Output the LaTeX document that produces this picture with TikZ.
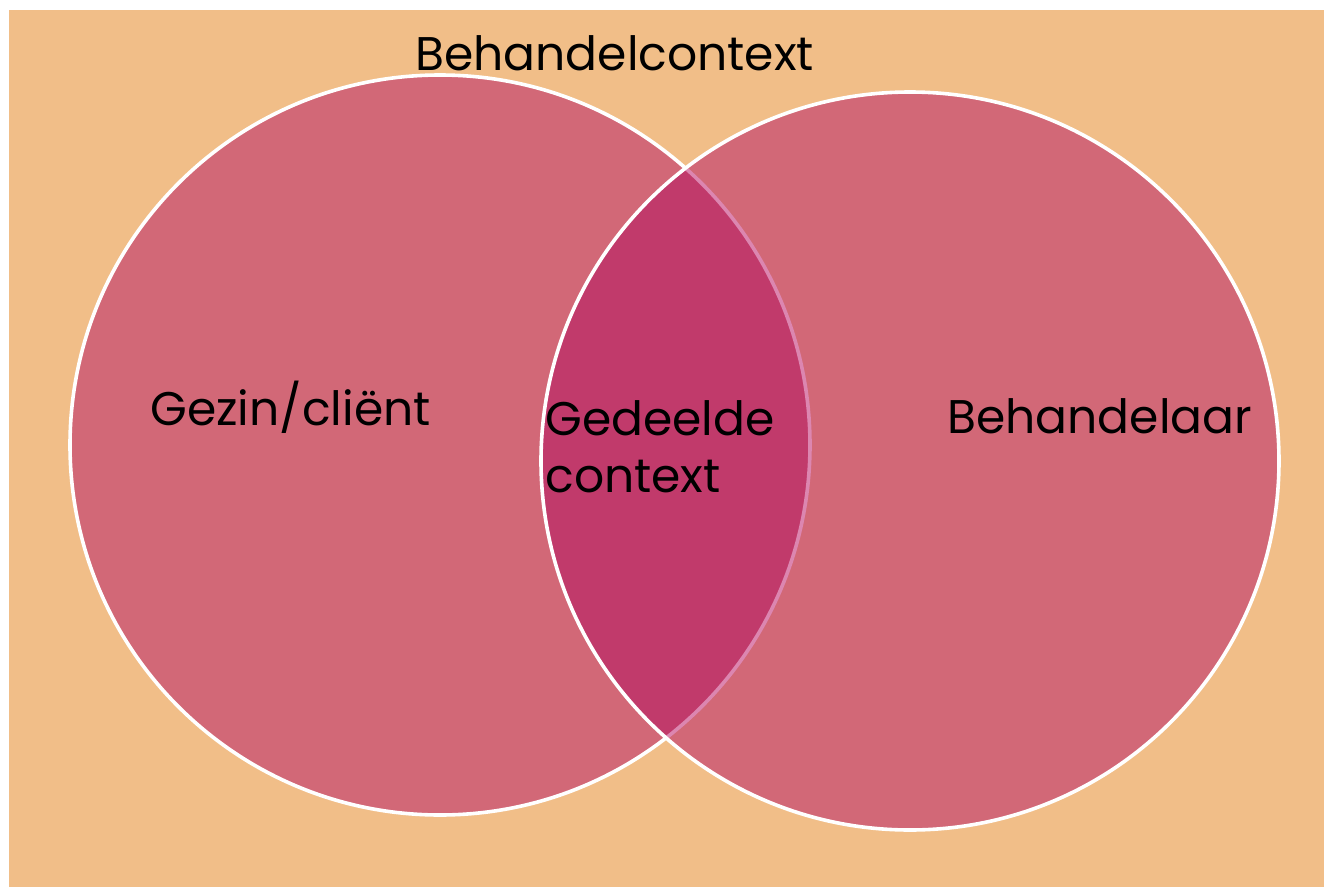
\documentclass[tikz,border=0pt]{standalone}
\usepackage{fontspec}
\setmainfont{Poppins}
\usetikzlibrary{positioning}

\definecolor{bgorange}{HTML}{F1BE88}
\definecolor{setrose}{HTML}{D26877}
\definecolor{sharedrose}{HTML}{C13A6B}
\definecolor{arcpink}{HTML}{DC86B0}

\begin{document}
\begin{tikzpicture}[x=0.5pt, y=-0.5pt,
	setline/.style={draw=white, line width=1.8pt},
	label/.style={inner sep=0pt, anchor=base west, font=\fontsize{23.6}{28}\selectfont}]
	\useasboundingbox (0,0) rectangle (1324,889);
	% Background
	\fill [bgorange] (9,10) rectangle (1324,887);
	
	% Sets
	\coordinate (gc) at (440,445);
	\coordinate (bc) at (910,461);
	\path [fill=setrose, setline] (gc) circle [radius=370];
	\path [fill=setrose] (bc) circle [radius=369];
	\begin{scope}
		\clip (gc) circle [radius=370];
		\fill [sharedrose] (bc) circle [radius=369];
	\end{scope}
	\begin{scope}
		\clip (bc) circle [radius=369];
		\draw [arcpink, line width=1.8pt] (gc) circle [radius=370];
	\end{scope}
	\path [setline] (bc) circle [radius=369];
	
	% Labels
	\node [label] (context)  at (415,70)  {Behandelcontext};
	\node [label] (gezin)    at (150,425) {Gezin/cliënt};
	\node [label] (shared)   at (545,435) {Gedeelde};
	\node [label] (shared2)  at (545,492) {context};
	\node [label] (behandel) at (947,433) {Behandelaar};
\end{tikzpicture}
\end{document}
